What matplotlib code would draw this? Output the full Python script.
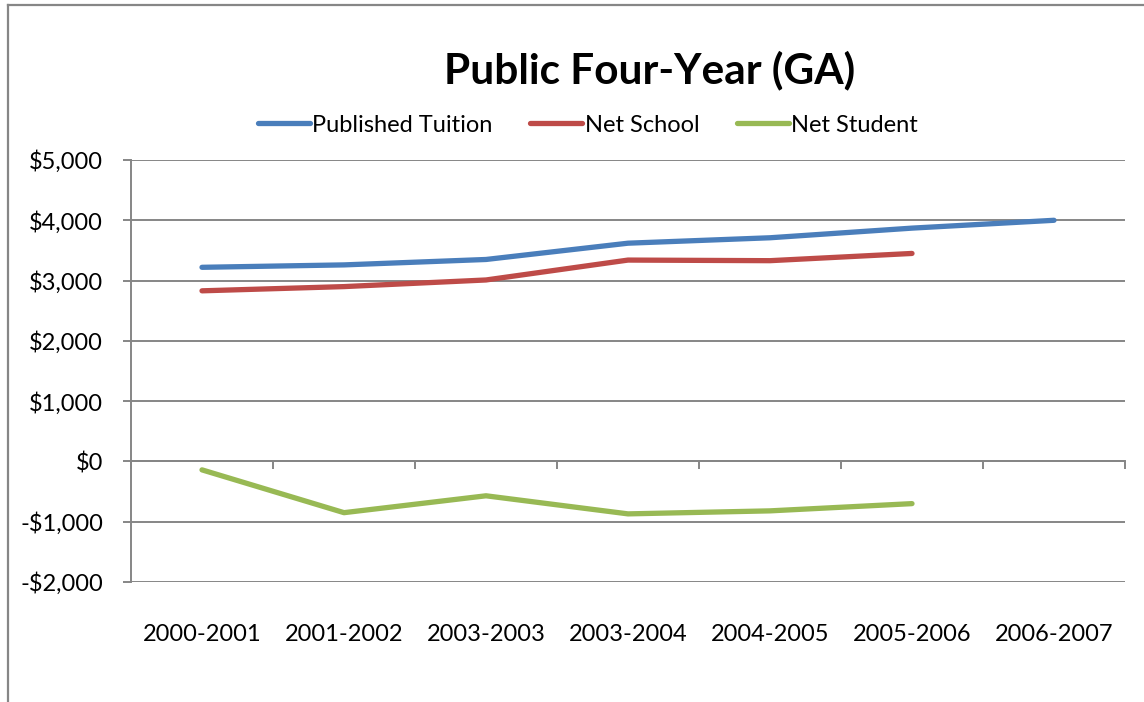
"""Public Four-Year (GA): published tuition vs net prices, 2000-2007."""
import matplotlib

matplotlib.use("Agg")
import matplotlib.pyplot as plt  # noqa: E402
from matplotlib.lines import Line2D  # noqa: E402
from matplotlib.ticker import FuncFormatter  # noqa: E402
import numpy as np  # noqa: E402

plt.rcParams["font.family"] = ["Lato", "DejaVu Sans"]

years = ["2000-2001", "2001-2002", "2003-2003", "2003-2004",
         "2004-2005", "2005-2006", "2006-2007"]
published_tuition = [3220, 3260, 3350, 3620, 3710, 3870, 4000]
net_school = [2830, 2900, 3010, 3340, 3330, 3450, np.nan]
net_student = [-140, -850, -570, -870, -820, -700, np.nan]

GRAY = "#868686"
series = [
    ("Published Tuition", published_tuition, "#4A7EBB"),
    ("Net School", net_school, "#BE4B48"),
    ("Net Student", net_student, "#98B954"),
]

fig = plt.figure(figsize=(11.44, 7.02), dpi=100)
ax = fig.add_axes([131 / 1144, 1 - 582 / 702, 994 / 1144, 422 / 702])

x = np.arange(len(years))
for name, vals, color in series:
    ax.plot(x, vals, color=color, lw=3.8, solid_capstyle="round",
            solid_joinstyle="round", label=name, zorder=3)

ax.set_xlim(-0.5, len(years) - 0.5)
ax.set_ylim(-2000, 5000)
ax.set_yticks(range(-2000, 5001, 1000))
ax.yaxis.set_major_formatter(FuncFormatter(
    lambda v, _: f"-${abs(v):,.0f}" if v < 0 else f"${v:,.0f}"))
ax.grid(axis="y", color=GRAY, lw=1.4)
ax.set_axisbelow(True)

for side in ("top", "right", "bottom"):
    ax.spines[side].set_visible(False)
ax.spines["left"].set_color(GRAY)
ax.spines["left"].set_linewidth(1.4)

ax.set_xticks(x)
ax.set_xticklabels(years)
ax.tick_params(axis="x", length=0, pad=30, labelsize=17)
ax.tick_params(axis="y", direction="out", length=6, width=1.4, color=GRAY,
               pad=14, labelsize=17)

# category axis crosses at $0 with tick marks between categories
zero_axis = ax.secondary_xaxis(2 / 7)
zero_axis.set_xticks(np.arange(len(years) + 1) - 0.5)
zero_axis.set_xticklabels([])
zero_axis.tick_params(direction="out", length=6, width=1.4, color=GRAY)
zero_axis.spines["bottom"].set_color(GRAY)
zero_axis.spines["bottom"].set_linewidth(1.4)

fig.text(0.568, 1 - 70 / 702, "Public Four-Year (GA)", ha="center",
         va="center", fontsize=30.5, fontweight="bold")
fig.legend(loc="center", bbox_to_anchor=(0.514, 1 - 125 / 702), ncol=3,
           frameon=False, fontsize=17, handlelength=2.2, handletextpad=0.1,
           columnspacing=1.6)

# chart border (left and top edges visible)
fig.add_artist(Line2D([8 / 1144, 8 / 1144], [0, 1 - 5 / 702], color=GRAY, lw=1.6))
fig.add_artist(Line2D([8 / 1144, 1], [1 - 5 / 702, 1 - 5 / 702], color=GRAY, lw=1.6))

fig.savefig("out.png", dpi=100)
